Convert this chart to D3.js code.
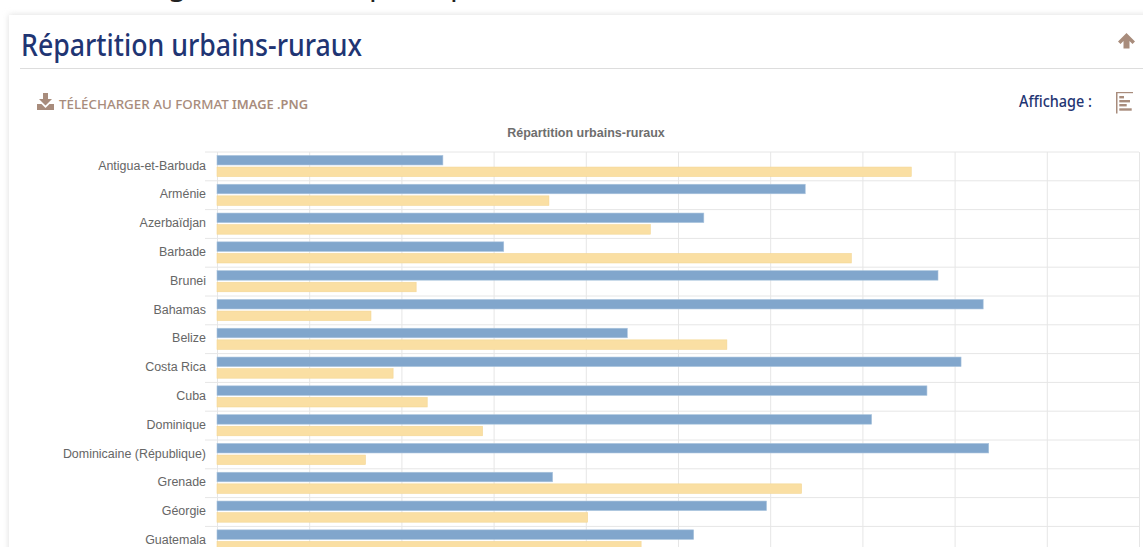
<!DOCTYPE html>
<html lang="fr">
<head>
<meta charset="utf-8">
<title>Répartition urbains-ruraux</title>
<script src="https://cdn.jsdelivr.net/npm/d3@7"></script>
<style>
  html, body { margin: 0; padding: 0; background: #fff; overflow: hidden; }
  svg { display: block; }
  .cat-axis text { font: 12.45px "Liberation Sans", sans-serif; fill: #666; }
  .grid line { stroke: #e6e6e6; }
</style>
</head>
<body>
<svg id="canvas" width="1143" height="547"></svg>
<script>
let countries = ["Antigua-et-Barbuda", "Arménie", "Azerbaïdjan", "Barbade", "Brunei", "Bahamas", "Belize",
  "Costa Rica", "Cuba", "Dominique", "Dominicaine (République)", "Grenade", "Géorgie", "Guatemala"];
let urbains = [24.5, 63.8, 52.8, 31.1, 78.2, 83.1, 44.5, 80.7, 77, 71, 83.7, 36.4, 59.6, 51.7];
let ruraux = [75.3, 36, 47, 68.8, 21.6, 16.7, 55.3, 19.1, 22.8, 28.8, 16.1, 63.4, 40.2, 46];
let xTicks = [0, 10, 20, 30, 40, 50, 60, 70, 80, 90, 100];

let svg = d3.select("#canvas");

// card behind the chart
let defs = svg.append("defs");
let blur = defs.append("filter").attr("id", "shadow")
  .attr("x", "-2%").attr("y", "-3%").attr("width", "104%").attr("height", "106%");
blur.append("feGaussianBlur").attr("stdDeviation", 3);

svg.append("rect").attr("x", 9).attr("y", 15).attr("width", 1200).attr("height", 600)
  .attr("fill", "#ddd").attr("filter", "url(#shadow)");
svg.append("rect").attr("x", 9).attr("y", 15).attr("width", 1200).attr("height", 600).attr("fill", "#fff");

// bottoms of the heading above the card, the rest is outside the window
svg.selectAll(".cut").data([["g", 168], ["p", 369], ["p", 450]]).enter().append("text")
  .attr("x", d => d[1]).attr("y", -5)
  .attr("font-family", "Noto Sans").attr("font-size", 30).attr("fill", "#222")
  .text(d => d[0]);

// header
svg.append("text").attr("x", 21).attr("y", 56)
  .attr("font-family", "Noto Sans").attr("font-size", 31).attr("font-weight", 500).attr("fill", "#1f3573")
  .attr("textLength", 341).attr("lengthAdjust", "spacingAndGlyphs")
  .text("Répartition urbains-ruraux");
svg.append("line").attr("x1", 20).attr("x2", 1143).attr("y1", 68.5).attr("y2", 68.5).attr("stroke", "#ddd");

// up arrow
svg.append("path").attr("transform", "translate(1126.5,41)")
  .attr("d", "M0,-8 L8.5,0.5 L6,3 L3,0 L3,7.5 L-3,7.5 L-3,0 L-6,3 L-8.5,0.5 Z")
  .attr("fill", "#a88c7c");

// download link
svg.append("path").attr("transform", "translate(37,93)")
  .attr("d", "M6,0 H11 V6 H15 L8.5,12.5 L2,6 H6 Z M0,11 H4.5 L8.5,15 L12.5,11 H17 V17 H0 Z")
  .attr("fill", "#a88c7c");
svg.append("text").attr("x", 59).attr("y", 109)
  .attr("font-family", "Noto Sans").attr("font-size", 13.35).attr("font-weight", 500).attr("fill", "#a88c7c")
  .text("TÉLÉCHARGER AU FORMAT");
svg.append("text").attr("x", 232).attr("y", 109)
  .attr("font-family", "Noto Sans").attr("font-size", 12.9).attr("font-weight", 600).attr("fill", "#a88c7c")
  .text("IMAGE .PNG");

// display switch
svg.append("text").attr("x", 1019).attr("y", 107)
  .attr("font-family", "Noto Sans").attr("font-size", 16.5).attr("font-weight", 500).attr("fill", "#1f3573")
  .attr("textLength", 73).attr("lengthAdjust", "spacingAndGlyphs")
  .text("Affichage :");
let icon = svg.append("g").attr("fill", "#a88c7c");
icon.append("rect").attr("x", 1116).attr("y", 92).attr("width", 1.5).attr("height", 21.5);
icon.append("rect").attr("x", 1116).attr("y", 92).attr("width", 17).attr("height", 1.2);
icon.selectAll(".b").data([[96, 4.7], [100, 10.7], [104, 7.4], [108.3, 12.4]]).enter().append("rect")
  .attr("x", 1119.3).attr("y", d => d[0]).attr("width", d => d[1]).attr("height", 2.4);

// chart
let x = d3.scaleLinear().domain([0, 100]).range([217, 1139]);
let y = d3.scaleBand().domain(countries).range([152, 555.2]);
let inner = d3.scaleBand().domain(["urbains", "ruraux"]).range([0, y.bandwidth()])
  .paddingInner(0.18).paddingOuter(0.33).align(0.45);

svg.append("text").attr("x", 586).attr("y", 137).attr("text-anchor", "middle")
  .attr("font-family", "Liberation Sans").attr("font-size", 12.5).attr("font-weight", "bold").attr("fill", "#6e6e6e")
  .text("Répartition urbains-ruraux");

let xGrid = svg.append("g").attr("class", "grid")
  .attr("transform", "translate(0,152)")
  .call(d3.axisBottom(x).tickValues(xTicks).tickSize(403).tickFormat(""));
xGrid.select(".domain").remove();
xGrid.selectAll("line").filter(d => d === 0).attr("stroke", "#aaa");

// row separators sit on the band edges
svg.append("g").attr("class", "grid").selectAll("line").data(countries).enter().append("line")
  .attr("x1", 205).attr("x2", 1139)
  .attr("y1", d => y(d)).attr("y2", d => y(d));

let catAxis = svg.append("g").attr("class", "cat-axis")
  .attr("transform", "translate(217,-0.8)")
  .call(d3.axisLeft(y).tickSize(0).tickPadding(11));
catAxis.select(".domain").remove();

let drawBars = (values, key, fill, border) => {
  svg.append("g").selectAll("rect").data(values).enter().append("rect")
    .attr("x", x(0))
    .attr("y", (d, i) => y(countries[i]) + inner(key))
    .attr("width", d => x(d) - x(0))
    .attr("height", inner.bandwidth())
    .attr("fill", fill)
    .attr("stroke", border)
    .attr("stroke-width", 0.6);
};
drawBars(urbains, "urbains", "#81a6cc", "#a9c3dd");
drawBars(ruraux, "ruraux", "#fadfa3", "#f3d694");
</script>
</body>
</html>
